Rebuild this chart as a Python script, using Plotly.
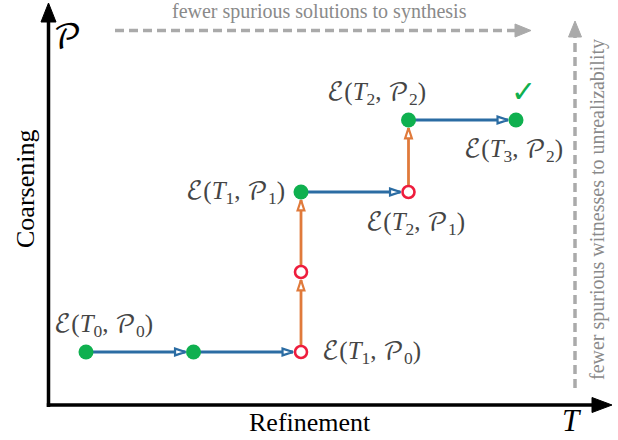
import plotly.graph_objects as go

W, H = 618, 440

# ---------------- data ----------------
node_T = [0, 1, 2, 2, 2, 3, 3, 4]          # refinement step
node_P = [0, 0, 0, 1, 2, 2, 2.9, 2.9]      # coarsening level
node_ok = [True, True, False, False, True, False, True, True]
label_nodes = [0, 2, 4, 5, 6, 7]
label_T = [0, 1, 1, 2, 2, 3]
label_P = [0, 0, 1, 1, 2, 2]
x_title = "Refinement"
y_title = "Coarsening"
top_note = "fewer spurious solutions to synthesis"
right_note = "fewer spurious witnesses to unrealizability"

# ---------------- styles ----------------
GREEN = "#0fb04f"
RED = "#ee1d3d"
BLUE = "#2b6ca3"
ORANGE = "#e07a3b"
GRAY = "#aaaaaa"
TXT_GRAY = "#8a8a8a"
LBL = "#454545"
SCRIPT = "font-family:'DejaVu Math TeX Gyre','Liberation Serif'"

XR = [-0.8, 4.9488]
YR = [-1.1, 4.4]
sx = W / (XR[1] - XR[0])   # px per x unit
sy = H / (YR[1] - YR[0])   # px per y unit


def px(x):
    return x / W


def py(y):
    return 1 - y / H


def lbl(t, p):
    return (f"<span style=\"{SCRIPT}\">ℰ</span>(<i>T</i><sub>{t}</sub>, "
            f"<span style=\"{SCRIPT}\">𝒫</span><sub>{p}</sub>)")


fig = go.Figure()

# edges
tip_gap = 8.0
for i in range(len(node_T) - 1):
    x0, y0 = node_T[i], node_P[i]
    x1, y1 = node_T[i + 1], node_P[i + 1]
    horiz = (y0 == y1)
    col = BLUE if horiz else ORANGE
    if horiz:
        xt, yt, ang = x1 - tip_gap / sx, y1, 90
    else:
        xt, yt, ang = x1, y1 - tip_gap / sy, 0
    fig.add_trace(go.Scatter(x=[x0, xt], y=[y0, yt], mode="lines",
                             line=dict(color=col, width=2.8), hoverinfo="skip",
                             showlegend=False))
    fig.add_trace(go.Scatter(x=[xt], y=[yt], mode="markers",
                             marker=dict(symbol="arrow", size=11, angle=ang,
                                         color="white",
                                         line=dict(color=col, width=2.2)),
                             hoverinfo="skip", showlegend=False))

# nodes
gx = [t for t, ok in zip(node_T, node_ok) if ok]
gy = [p for p, ok in zip(node_P, node_ok) if ok]
rx = [t for t, ok in zip(node_T, node_ok) if not ok]
ry = [p for p, ok in zip(node_P, node_ok) if not ok]
fig.add_trace(go.Scatter(x=gx, y=gy, mode="markers",
                         marker=dict(size=15, color=GREEN, line=dict(width=0)),
                         showlegend=False, hoverinfo="skip"))
fig.add_trace(go.Scatter(x=rx, y=ry, mode="markers",
                         marker=dict(size=12, color="white",
                                     line=dict(color=RED, width=2.6)),
                         showlegend=False, hoverinfo="skip"))

# labels
shifts = {0: (17, 27), 2: (70, 0), 4: (-66, 0), 5: (7, -31), 6: (-32, 27), 7: (-3, -30)}
for n, t, p in zip(label_nodes, label_T, label_P):
    dx, dy = shifts[n]
    fig.add_annotation(x=node_T[n], y=node_P[n], text=lbl(t, p), showarrow=False,
                       xshift=dx, yshift=dy, xanchor="center", yanchor="middle",
                       font=dict(family="Liberation Serif", size=25, color=LBL))
# check mark
fig.add_annotation(x=node_T[7], y=node_P[7], text="✓", showarrow=False,
                   xshift=7, yshift=29, font=dict(family="DejaVu Sans", size=30, color=GREEN))

# axes arrows (decoration)
shapes = []
shapes.append(dict(type="line", xref="paper", yref="paper",
                   x0=px(48.5), y0=py(407), x1=px(48.5), y1=py(18),
                   line=dict(color="black", width=3.5)))
shapes.append(dict(type="line", xref="paper", yref="paper",
                   x0=px(46.8), y0=py(405), x1=px(596), y1=py(405),
                   line=dict(color="black", width=3.5)))


def tri(pts, color):
    d = "M " + " L ".join(f"{px(a)},{py(b)}" for a, b in pts) + " Z"
    return dict(type="path", xref="paper", yref="paper", path=d,
                fillcolor=color, line=dict(color=color, width=1))


shapes.append(tri([(48.5, 3), (41, 22), (56, 22)], "black"))
shapes.append(tri([(612, 405), (592, 397.5), (592, 412.5)], "black"))

# gray dashed arrows
shapes.append(dict(type="line", xref="paper", yref="paper",
                   x0=px(115), y0=py(30.5), x1=px(516), y1=py(30.5),
                   line=dict(color=GRAY, width=3.5, dash="9px,5px")))
shapes.append(tri([(531, 30.5), (515, 24), (515, 37)], GRAY))
shapes.append(dict(type="line", xref="paper", yref="paper",
                   x0=px(575), y0=py(388), x1=px(575), y1=py(36),
                   line=dict(color=GRAY, width=3.5, dash="9px,5px")))
shapes.append(tri([(575, 21), (568.5, 37), (581.5, 37)], GRAY))

# texts
fig.add_annotation(xref="paper", yref="paper", x=px(319), y=py(12), text=top_note,
                   showarrow=False, xanchor="center", yanchor="middle",
                   font=dict(family="Liberation Serif", size=20, color=TXT_GRAY))
fig.add_annotation(xref="paper", yref="paper", x=px(597), y=py(210), text=right_note,
                   showarrow=False, textangle=-90, xanchor="center", yanchor="middle",
                   font=dict(family="Liberation Serif", size=20, color=TXT_GRAY))
fig.add_annotation(xref="paper", yref="paper", x=px(310), y=py(422), text=x_title,
                   showarrow=False, xanchor="center", yanchor="middle",
                   font=dict(family="Liberation Serif", size=26, color="black"))
fig.add_annotation(xref="paper", yref="paper", x=px(25), y=py(189), text=y_title,
                   showarrow=False, textangle=-90, xanchor="center", yanchor="middle",
                   font=dict(family="Liberation Serif", size=26, color="black"))
fig.add_annotation(xref="paper", yref="paper", x=px(67), y=py(39),
                   text=f"<span style=\"{SCRIPT}\">𝒫</span>",
                   showarrow=False, xanchor="center", yanchor="middle",
                   font=dict(family="Liberation Serif", size=34, color="black"))
fig.add_annotation(xref="paper", yref="paper", x=px(572), y=py(420), text="<i>T</i>",
                   showarrow=False, xanchor="center", yanchor="middle",
                   font=dict(family="Liberation Serif", size=31, color="black"))

fig.update_layout(
    width=W, height=H, autosize=False,
    margin=dict(l=0, r=0, t=0, b=0, pad=0),
    paper_bgcolor="white", plot_bgcolor="white",
    xaxis=dict(range=XR, visible=False, fixedrange=True),
    yaxis=dict(range=YR, visible=False, fixedrange=True),
    shapes=shapes, showlegend=False,
)

fig.write_html("out.html")
